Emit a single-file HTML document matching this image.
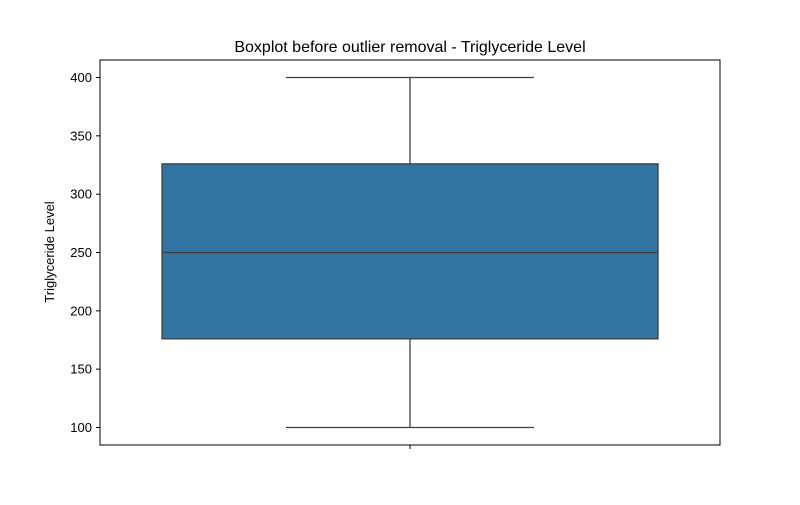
<!DOCTYPE html>
<html><head><meta charset="utf-8"><style>
body{margin:0;background:#fff;}
svg text{font-family:"Liberation Sans","DejaVu Sans",sans-serif;}
</style></head><body>
<svg id="chart" width="800" height="500" xmlns="http://www.w3.org/2000/svg">
<rect width="800" height="500" fill="#fff"/>
<text x="410" y="52" text-anchor="middle" font-size="16" fill="#000">Boxplot before outlier removal - Triglyceride Level</text>
<text transform="translate(54,252) rotate(-90)" text-anchor="middle" font-size="13" fill="#000">Triglyceride Level</text>
<g id="ticks"></g>
<g id="marks"></g>
<rect x="100" y="60" width="620" height="385" fill="none" stroke="#000" stroke-width="1"/>
</svg>
<script>
const yTicks = [100, 150, 200, 250, 300, 350, 400];
const boxStats = [100, 176, 250, 326, 400]; // min, q1, median, q3, max
const yMin = 85, yMax = 415;
const plotTop = 60, plotBottom = 445, plotLeft = 100, plotRight = 720;
function yScale(v){ return plotBottom - (v - yMin) / (yMax - yMin) * (plotBottom - plotTop); }
const cx = (plotLeft + plotRight) / 2;
const pxPerUnit = (plotRight - plotLeft);
const ns = "http://www.w3.org/2000/svg";
function mk(tag, attrs, parent){ const e = document.createElementNS(ns, tag); for (const k in attrs) e.setAttribute(k, attrs[k]); parent.appendChild(e); return e; }
const tg = document.getElementById('ticks');
yTicks.forEach(t => {
  const l = mk('line', {x1: plotLeft - 4, x2: plotLeft, y1: yScale(t), y2: yScale(t), stroke: '#000'}, tg);
  
  
  const tx = mk('text', {x: plotLeft - 8, y: yScale(t) + 4.5, 'text-anchor': 'end', 'font-size': 13}, tg);
  tx.textContent = t;
  
  
});
const xt = mk('line', {x1: cx, x2: cx, y1: plotBottom, y2: plotBottom + 4, stroke: '#000'}, tg);


const mg = document.getElementById('marks');
const boxW = 0.8 * pxPerUnit, capW = 0.4 * pxPerUnit;
const lc = '#3f3f3f';
const w1 = mk('line', {x1: cx, x2: cx, y1: yScale(boxStats[0]), y2: yScale(boxStats[1]), stroke: lc, 'stroke-width': 1.3}, mg);


const w2 = mk('line', {x1: cx, x2: cx, y1: yScale(boxStats[3]), y2: yScale(boxStats[4]), stroke: lc, 'stroke-width': 1.3}, mg);


const c1 = mk('line', {x1: cx - capW/2, x2: cx + capW/2, y1: yScale(boxStats[0]), y2: yScale(boxStats[0]), stroke: lc, 'stroke-width': 1.3}, mg);


const c2 = mk('line', {x1: cx - capW/2, x2: cx + capW/2, y1: yScale(boxStats[4]), y2: yScale(boxStats[4]), stroke: lc, 'stroke-width': 1.3}, mg);


const bx = mk('rect', {x: cx - boxW/2, y: yScale(boxStats[3]), width: boxW, height: yScale(boxStats[1]) - yScale(boxStats[3]), fill: '#3274a1', stroke: lc, 'stroke-width': 1.3}, mg);


const md = mk('line', {x1: cx - boxW/2, x2: cx + boxW/2, y1: yScale(boxStats[2]), y2: yScale(boxStats[2]), stroke: lc, 'stroke-width': 1.3}, mg);


</script>
</body></html>
